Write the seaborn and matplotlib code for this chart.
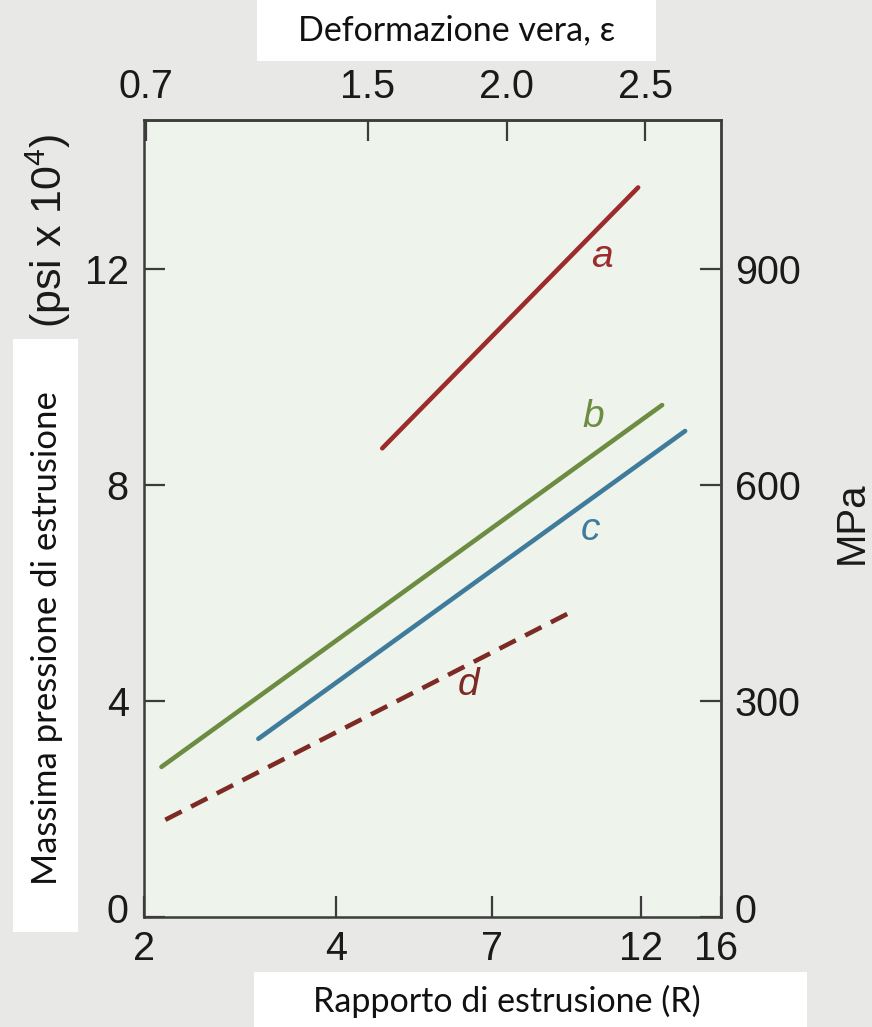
import numpy as np
import pandas as pd
import matplotlib
matplotlib.use("Agg")
import matplotlib.pyplot as plt
import matplotlib.transforms as mtransforms
from matplotlib.patches import Rectangle
from matplotlib.ticker import NullLocator, FixedLocator, FixedFormatter
import seaborn as sns

# ---- data ----
curves = ["a", "b", "c", "d"]
R_start = [4.72, 2.13, 3.02, 2.16]
R_end = [11.87, 12.94, 14.06, 9.36]
p_start = [8.68, 2.78, 3.30, 1.80]
p_end = [13.51, 9.48, 9.00, 5.66]
label_R = [10.42, 10.09, 9.98, 6.43]
label_p = [12.23, 9.26, 7.16, 4.29]
colors = ["#9c2b2c", "#6c8c42", "#3f7c9b", "#7d2a25"]

x_ticks = [2, 4, 7, 12, 16]
y_ticks = [0, 4, 8, 12]
mpa_ticks = [0, 300, 600, 900]
eps_ticks = [0.7, 1.5, 2.0, 2.5]
eps_labels = ["0.7", "1.5", "2.0", "2.5"]

rows = []
for c, r0, r1, q0, q1 in zip(curves, R_start, R_end, p_start, p_end):
    rows.append({"curve": c, "R": r0, "p": q0})
    rows.append({"curve": c, "R": r1, "p": q1})
df = pd.DataFrame(rows)

sns.set_theme(style="ticks")
plt.rcParams["font.family"] = ["Liberation Sans", "DejaVu Sans"]
plt.rcParams["mathtext.fontset"] = "custom"
plt.rcParams["mathtext.rm"] = "Liberation Sans"
plt.rcParams["mathtext.it"] = "Liberation Sans:italic"

fig = plt.figure(figsize=(8.72, 10.27), dpi=100)
fig.patch.set_facecolor("#e8e9e7")
ax = fig.add_axes([144 / 872, 110 / 1027, 577 / 872, 797 / 1027])
ax.set_facecolor("#eef3eb")

palette = dict(zip(curves, colors))
dashes = {"a": "", "b": "", "c": "", "d": (4, 2.3)}
sns.lineplot(data=df, x="R", y="p", hue="curve", style="curve", palette=palette,
             dashes=dashes, linewidth=3.3, legend=False, estimator=None,
             sort=False, units="curve", ax=ax)

ax.set_xscale("log")
ax.set_xlim(2, 16)
ax.set_ylim(0, 797 / 54.0)
ax.xaxis.set_major_locator(FixedLocator(x_ticks))
ax.xaxis.set_major_formatter(FixedFormatter([str(t) for t in x_ticks]))
ax.xaxis.set_minor_locator(NullLocator())
ax.set_yticks(y_ticks)
ax.set_yticklabels([str(t) for t in y_ticks])
ax.set_xlabel("")
ax.set_ylabel("")

frame_col = "#3c3c3c"
for s in ax.spines.values():
    s.set_color(frame_col)
    s.set_linewidth(1.8)
    s.set_visible(True)

tick_fs = 28.5
ax.tick_params(axis="x", direction="in", length=15, width=1.6, color=frame_col,
               labelsize=tick_fs, pad=9, labelcolor="#1a1a1a")
ax.tick_params(axis="y", direction="in", length=15, width=1.6, color=frame_col,
               labelsize=tick_fs, pad=11, labelcolor="#1a1a1a")

# top axis: true strain eps = ln R
secx = ax.secondary_xaxis("top", functions=(np.log, np.exp))
secx.set_xticks(eps_ticks)
secx.set_xticklabels(eps_labels)
secx.xaxis.set_minor_locator(NullLocator())
secx.tick_params(axis="x", direction="in", length=15, width=1.6, color=frame_col,
                 labelsize=tick_fs, pad=10, labelcolor="#1a1a1a")
secx.spines["top"].set_color(frame_col)
secx.spines["top"].set_linewidth(1.8)

# right axis: MPa
secy = ax.secondary_yaxis("right", functions=(lambda y: y * 75.0, lambda m: m / 75.0))
secy.set_yticks(mpa_ticks)
secy.set_yticklabels([str(t) for t in mpa_ticks])
secy.yaxis.set_minor_locator(NullLocator())
secy.tick_params(axis="y", direction="in", length=15, width=1.6, color=frame_col,
                 labelsize=tick_fs, pad=10, labelcolor="#1a1a1a")
secy.spines["right"].set_color("#6a6a6a")
secy.spines["right"].set_linewidth(1.8)

# nudge corner labels apart, as in the reference
up = mtransforms.ScaledTranslation(0, 9 / 100, fig.dpi_scale_trans)
left = mtransforms.ScaledTranslation(-5 / 100, 0, fig.dpi_scale_trans)
ylab0 = ax.get_yticklabels()[0]
ylab0.set_transform(ylab0.get_transform() + up)
rlab0 = secy.get_yticklabels()[0]
rlab0.set_transform(rlab0.get_transform() + up)
xlab16 = ax.get_xticklabels()[-1]
xlab16.set_transform(xlab16.get_transform() + left)

# curve labels
for c, lr, lp, col in zip(curves, label_R, label_p, colors):
    ax.text(lr, lp, c, color=col, fontsize=28, style="italic",
            ha="center", va="center")

# white boxes with Italian labels
lab_font = ["Lato", "DejaVu Sans"]
fig.patches.append(Rectangle((257 / 872, 1 - 61 / 1027), 399 / 872, 61 / 1027,
                             transform=fig.transFigure, facecolor="white",
                             edgecolor="none", zorder=0))
fig.patches.append(Rectangle((254 / 872, 0), 553 / 872, 55 / 1027,
                             transform=fig.transFigure, facecolor="white",
                             edgecolor="none", zorder=0))
fig.patches.append(Rectangle((13 / 872, 1 - 932 / 1027), 65 / 872, 593 / 1027,
                             transform=fig.transFigure, facecolor="white",
                             edgecolor="none", zorder=0))

fig.text(457 / 872, 1 - 30 / 1027, "Deformazione vera, ε", family=lab_font,
         fontsize=24.5, ha="center", va="center", color="#111111")
fig.text(507 / 872, 1 - 1001 / 1027, "Rapporto di estrusione (R)", family=lab_font,
         fontsize=24.5, ha="center", va="center", color="#111111")
fig.text(47 / 872, 1 - 638 / 1027, "Massima pressione di estrusione", family=lab_font,
         fontsize=25, ha="center", va="center", rotation=90, color="#111111")

fig.text(48 / 872, 1 - 231 / 1027, r"(psi x 10$^4$)", fontsize=31,
         ha="center", va="center", rotation=90, color="#1a1a1a")
fig.text(852 / 872, 1 - 523 / 1027, "MPa", fontsize=29,
         ha="center", va="center", rotation=90, color="#1a1a1a")

fig.savefig("out.png", dpi=100, facecolor=fig.get_facecolor())
